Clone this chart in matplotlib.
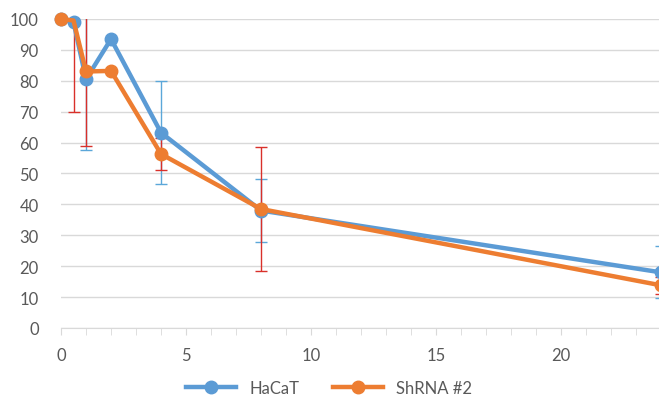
import matplotlib.pyplot as plt
from matplotlib.ticker import MultipleLocator

plt.rcParams['font.family'] = ['Lato', 'DejaVu Sans']

# time points and values
hacat_x = [0, 0.5, 1, 2, 4, 8, 24]
hacat_y = [100, 99, 80.5, 93.5, 63.2, 38, 18]
hacat_err = [0, 0, 23, 0, 16.7, 10.3, 8.4]

shrna_x = [0, 0.5, 1, 2, 4, 8, 24]
shrna_y = [100, 99.5, 83, 83.2, 56.3, 38.5, 13.8]
shrna_err = [0, 29.5, 24, 0, 5.2, 20, 2.8]

xticks = [0, 5, 10, 15, 20]
yticks = [0, 10, 20, 30, 40, 50, 60, 70, 80, 90, 100]

blue = '#5B9BD5'
orange = '#ED7D31'
gray = '#595959'

fig = plt.figure(figsize=(6.59, 4.10), dpi=100)
ax = fig.add_axes([0.0926, 0.1976, 0.9105, 0.7537])

# error bars first (blue thin, red thin)
ax.errorbar(hacat_x, hacat_y, yerr=hacat_err, fmt='none', ecolor='#5BA7D9',
            elinewidth=1, capsize=4, capthick=1, zorder=2)
ax.errorbar(shrna_x, shrna_y, yerr=shrna_err, fmt='none', ecolor='#D9302A',
            elinewidth=1, capsize=4, capthick=1, zorder=2)

ax.plot(hacat_x, hacat_y, color=blue, lw=3.2, marker='o', ms=9,
        label='HaCaT', zorder=3, clip_on=False)
ax.plot(shrna_x, shrna_y, color=orange, lw=3.2, marker='o', ms=9,
        markevery=[0, 2, 3, 4, 5, 6], label='ShRNA #2', zorder=4, clip_on=False)

ax.set_xlim(0, 24)
ax.set_ylim(0, 100)
ax.set_xticks(xticks)
ax.xaxis.set_minor_locator(MultipleLocator(1))
ax.set_yticks(yticks)
ax.grid(axis='y', color='#D9D9D9', lw=1)
ax.set_axisbelow(True)

for s in ['top', 'right', 'left']:
    ax.spines[s].set_visible(False)
ax.spines['bottom'].set_color('#D9D9D9')
ax.tick_params(axis='x', which='both', length=5, color='#D9D9D9', pad=9,
               labelsize=12, labelcolor=gray)
ax.tick_params(axis='y', length=0, pad=16, labelsize=12, labelcolor=gray)

leg = fig.legend(loc='lower center', bbox_to_anchor=(0.5, -0.005), ncol=2,
                 frameon=False, fontsize=12, handlelength=3, columnspacing=2)
for t in leg.get_texts():
    t.set_color(gray)

plt.savefig('out.png', dpi=100)
